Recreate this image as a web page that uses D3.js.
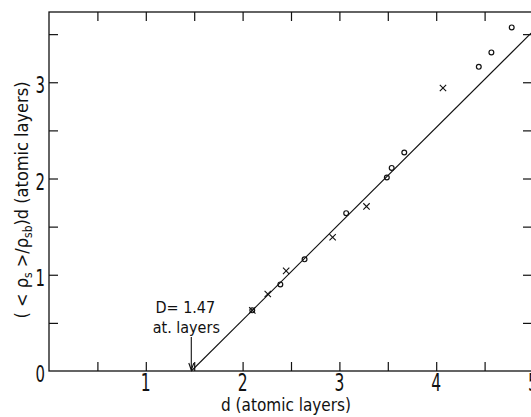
<!DOCTYPE html>
<html>
<head>
<meta charset="utf-8">
<script src="https://cdn.jsdelivr.net/npm/d3@7"></script>
<style>
  body { margin: 0; background: #fff; }
  svg { display: block; }
  text { font-family: "DejaVu Sans Condensed", "DejaVu Sans", sans-serif; fill: #111; }
</style>
</head>
<body>
<div id="chart"></div>
<script>
// data
var circleD = [2.10, 2.39, 2.64, 3.07, 3.49, 3.54, 3.67, 4.44, 4.57, 4.78];
var circleV = [0.63, 0.90, 1.16, 1.64, 2.01, 2.11, 2.27, 3.16, 3.31, 3.57];
var crossD = [2.10, 2.26, 2.45, 2.93, 3.28, 4.07];
var crossV = [0.63, 0.80, 1.04, 1.39, 1.71, 2.94];
var fitD = [1.47, 4.98];
var fitV = [0.0, 3.51];
var xTicks = [1, 2, 3, 4, 5];
var yTicks = [0, 1, 2, 3];
var minorTicks = [0.5, 1, 1.5, 2, 2.5, 3, 3.5, 4, 4.5];
var yMinor = [0.5, 1, 1.5, 2, 2.5, 3, 3.5];
var breakD = 1.47;

var width = 531, height = 417;

var svg = d3.select('#chart').append('svg')
    .attr('width', width)
    .attr('height', height);

var xScale = d3.scaleLinear().domain([0, 5]).range([49, 533]);
var yScale = d3.scaleLinear().domain([0, 3.73]).range([371, 12]);

var ink = '#111';

// frame
svg.append('rect')
    .attr('x', xScale(0)).attr('y', yScale(3.73))
    .attr('width', xScale(5) - xScale(0) - 1)
    .attr('height', yScale(0) - yScale(3.73))
    .attr('fill', 'none')
    .attr('stroke', ink)
    .attr('stroke-width', 1.3);

// bottom ticks (inward)
var xAxis = d3.axisBottom(xScale).tickValues(minorTicks).tickSize(-9).tickFormat('');
svg.append('g').attr('transform', 'translate(0,' + yScale(0) + ')').call(xAxis)
    .call(g => g.select('.domain').remove())
    .selectAll('line').attr('stroke', ink).attr('stroke-width', 1.2);

// top ticks (inward)
var xTop = d3.axisTop(xScale).tickValues(minorTicks).tickSize(-9).tickFormat('');
svg.append('g').attr('transform', 'translate(0,' + yScale(3.73) + ')').call(xTop)
    .call(g => g.select('.domain').remove())
    .selectAll('line').attr('stroke', ink).attr('stroke-width', 1.2);

// left ticks
var yAxis = d3.axisLeft(yScale).tickValues(yMinor).tickSize(-9).tickFormat('');
svg.append('g').attr('transform', 'translate(' + xScale(0) + ',0)').call(yAxis)
    .call(g => g.select('.domain').remove())
    .selectAll('line').attr('stroke', ink).attr('stroke-width', 1.2);

// right ticks
var yRight = d3.axisRight(yScale).tickValues(yMinor).tickSize(-8).tickFormat('');
svg.append('g').attr('transform', 'translate(' + (xScale(5) - 2) + ',0)').call(yRight)
    .call(g => g.select('.domain').remove())
    .selectAll('line').attr('stroke', ink).attr('stroke-width', 1.2);

// x tick labels
svg.selectAll('.xlab')
    .data(xTicks)
    .enter().append('text')
    .attr('class', 'xlab')
    .attr('transform', d => 'translate(' + xScale(d) + ',391) scale(0.72,1)')
    .attr('text-anchor', 'middle')
    .attr('font-size', 24)
    .text(d => d);

// y tick labels
svg.selectAll('.ylab')
    .data(yTicks)
    .enter().append('text')
    .attr('class', 'ylab')
    .attr('transform', d => 'translate(' + (xScale(0) - 4) + ',' + (yScale(d) + 11) + ') scale(0.72,1)')
    .attr('text-anchor', 'end')
    .attr('font-size', 23)
    .text(d => d);

// x axis title
svg.append('text')
    .attr('x', 286)
    .attr('y', 411)
    .attr('text-anchor', 'middle')
    .attr('font-size', 17)
    .text('d (atomic layers)');

// y axis title
var yt = svg.append('text')
    .attr('transform', 'translate(28,200) rotate(-90)')
    .attr('text-anchor', 'middle')
    .attr('font-size', 18);
yt.append('tspan').text('( < \u03C1');
yt.append('tspan').attr('font-size', 12).attr('dy', 4).text('s');
yt.append('tspan').attr('dy', -4).text(' >/\u03C1');
yt.append('tspan').attr('font-size', 12).attr('dy', 4).text('sb');
yt.append('tspan').attr('dy', -4).text(')d (atomic layers)');

// fitted line
var line = d3.line().x(d => xScale(d[0])).y(d => yScale(d[1]));
svg.append('path')
    .datum(d3.zip(fitD, fitV))
    .attr('d', line)
    .attr('fill', 'none')
    .attr('stroke', ink)
    .attr('stroke-width', 1.1);

// circles
svg.selectAll('.circ')
    .data(d3.zip(circleD, circleV))
    .enter().append('circle')
    .attr('cx', d => xScale(d[0]))
    .attr('cy', d => yScale(d[1]))
    .attr('r', 2.4)
    .attr('fill', 'none')
    .attr('stroke', ink)
    .attr('stroke-width', 1.2);

// crosses
svg.selectAll('.cross')
    .data(d3.zip(crossD, crossV))
    .enter().append('path')
    .attr('transform', d => 'translate(' + xScale(d[0]) + ',' + yScale(d[1]) + ') rotate(45)')
    .attr('d', 'M-4.5,0H4.5M0,-4.5V4.5')
    .attr('stroke', ink)
    .attr('stroke-width', 1.1);

// D annotation with arrow
var ax = xScale(breakD);
svg.append('line')
    .attr('x1', ax).attr('x2', ax)
    .attr('y1', 337).attr('y2', yScale(0) - 1)
    .attr('stroke', ink)
    .attr('stroke-width', 1.1);
svg.append('path')
    .attr('d', 'M' + (ax - 2.5) + ',' + (yScale(0) - 8) + 'L' + ax + ',' + (yScale(0) - 1) + 'L' + (ax + 2.5) + ',' + (yScale(0) - 8))
    .attr('fill', 'none')
    .attr('stroke', ink)
    .attr('stroke-width', 1.1);
svg.append('text')
    .attr('x', ax - 6)
    .attr('y', 313)
    .attr('text-anchor', 'middle')
    .attr('font-size', 16)
    .text('D= 1.47');
svg.append('text')
    .attr('x', ax - 5)
    .attr('y', 333)
    .attr('text-anchor', 'middle')
    .attr('font-size', 16)
    .text('at. layers');
</script>
</body>
</html>
